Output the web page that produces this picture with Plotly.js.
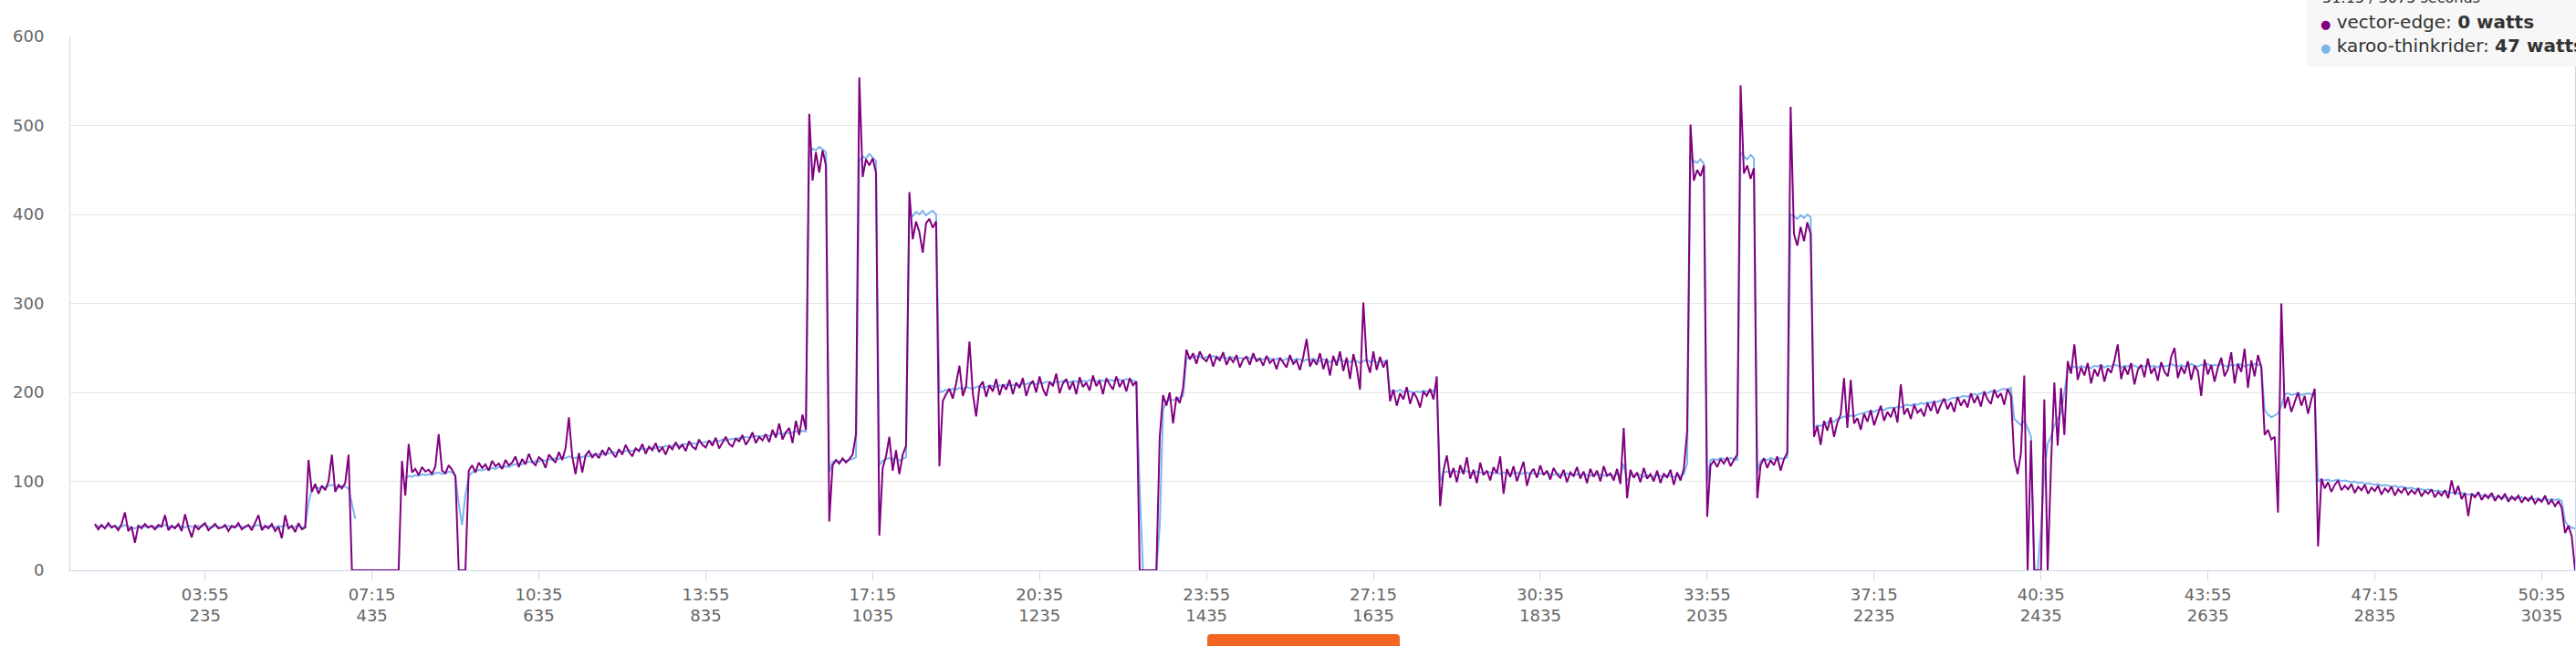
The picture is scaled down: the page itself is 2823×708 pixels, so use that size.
<!DOCTYPE html>
<html>
<head>
<meta charset="utf-8">
<script src="https://cdn.plot.ly/plotly-3.0.1.min.js"></script>
<style>
  html, body { margin: 0; padding: 0; background: #ffffff; }
  #chart { width: 2823px; height: 708px; }
</style>
</head>
<body>
<div id="chart"></div>
<script>
// ---- Data (seconds, watts) ----
const sampleStart = 103;   // first sample, seconds
const sampleStep = 4;      // seconds between samples

// vector-edge power (watts), 100 s per row
const vectorEdge = [
  52,46,51,47,53,48,50,45,52,65,44,49,31,50,47,52,48,50,46,51,49,62,45,50,47,
  52,44,63,48,37,51,46,50,53,45,49,52,47,48,51,44,50,48,53,46,49,51,45,54,62,
  45,50,47,52,44,49,36,62,47,50,43,53,46,48,124,88,97,86,95,90,100,130,88,96,92,
  98,130,0,0,0,0,0,0,0,0,0,0,0,0,0,0,0,123,84,142,110,114,107,116,111,
  113,108,117,153,112,109,118,113,106,0,0,0,112,118,110,121,115,119,112,123,117,120,114,124,118,
  121,128,116,125,119,131,122,118,127,124,115,130,126,121,133,124,137,172,128,108,132,110,129,134,127,
  131,126,135,129,138,132,127,136,130,141,133,128,137,134,142,131,139,135,143,133,138,130,140,136,144,
  137,141,134,145,139,136,147,141,138,146,140,149,137,144,150,142,139,148,145,152,141,147,155,143,150,
  146,153,144,158,149,165,147,155,160,143,168,152,175,158,513,438,470,447,472,455,55,118,124,120,126,
  121,125,130,153,554,442,462,455,463,447,39,115,128,150,112,135,108,130,140,425,372,392,380,357,390,
  395,385,392,117,190,198,204,193,210,230,196,207,257,199,173,206,212,195,208,201,215,197,209,203,214,
  198,211,205,216,196,208,213,200,218,204,196,212,207,221,199,210,215,203,212,198,217,206,211,202,219,
  207,213,198,216,209,203,218,206,214,201,216,208,212,0,0,0,0,0,0,150,197,185,200,165,195,
  188,205,248,237,244,232,246,238,235,243,229,240,236,245,231,239,234,242,228,237,240,231,244,235,238,
  230,241,233,237,226,239,234,228,242,232,236,225,240,260,229,237,231,244,226,238,219,241,230,246,224,
  239,215,243,228,203,301,235,222,246,225,240,228,236,190,203,185,199,192,206,187,200,194,183,201,196,
  204,192,218,72,112,129,104,115,99,118,108,127,103,113,98,121,107,112,101,116,109,128,86,114,105,
  117,100,111,122,95,109,114,104,118,107,112,102,115,108,104,113,99,110,106,116,103,111,98,114,105,
  112,100,117,106,109,101,114,97,160,81,113,104,110,99,115,103,108,100,112,98,109,104,113,96,110,
  101,114,156,501,438,450,443,455,60,118,123,116,125,120,127,117,124,130,545,446,455,440,452,81,118,
  126,115,124,118,128,112,125,132,521,378,365,386,370,391,378,150,162,141,168,157,172,150,166,175,216,
  160,214,165,171,158,176,167,180,163,174,185,168,178,172,183,166,209,175,182,170,186,177,181,173,188,
  179,190,176,186,193,181,189,178,195,185,192,183,199,188,196,184,201,192,187,203,194,199,186,204,196,
  125,108,132,219,0,146,0,0,0,192,0,118,211,140,205,152,235,221,254,214,228,219,233,210,226,
  218,231,212,227,222,236,254,215,229,220,233,209,225,231,217,238,221,228,213,234,223,218,240,250,216,
  229,221,235,214,230,224,196,237,220,231,212,228,239,218,226,245,210,232,223,249,205,236,218,242,228,
  152,158,147,150,65,300,182,195,178,190,200,185,196,176,192,204,27,103,92,99,88,96,101,90,95,
  91,97,87,94,90,96,86,93,89,95,85,92,88,94,84,91,87,93,85,90,86,92,83,89,86,
  91,82,88,84,90,81,101,85,95,80,87,61,86,82,88,79,85,81,87,78,84,80,86,77,83,
  79,84,76,82,78,83,75,80,77,84,74,79,72,78,70,42,50,38,0
];

// karoo-thinkrider power (watts), same timestamps, null = no reading
const karooThinkrider = [
  49,50,49,48,50,49,50,48,49,51,49,48,47,49,50,49,48,50,49,48,50,51,49,48,49,
  50,49,48,50,49,48,50,49,51,49,48,50,49,48,49,50,48,49,50,49,48,50,49,50,51,
  49,48,50,49,48,50,49,51,49,48,49,50,48,49,75,92,93,92,94,93,95,96,94,93,95,
  94,92,75,58,null,null,null,null,null,null,null,null,null,null,null,null,null,null,104,106,105,107,106,108,107,
  108,107,109,110,108,109,111,110,106,75,51,85,106,110,111,113,112,114,113,115,114,116,115,117,116,
  118,119,120,119,121,122,121,123,122,124,123,125,124,126,125,127,126,128,127,126,128,127,129,128,130,
  130,131,130,132,131,133,132,134,133,134,135,134,136,135,137,136,137,138,137,139,138,140,139,140,141,
  140,141,142,141,143,142,144,143,144,145,144,146,145,147,146,147,148,147,149,148,150,149,150,151,150,
  151,152,151,153,152,154,153,155,154,155,156,155,157,156,470,474,472,476,473,470,110,122,123,122,124,
  123,124,125,127,460,465,463,468,464,460,118,123,125,126,124,127,123,125,127,402,398,403,400,404,399,
  402,404,400,200,201,203,202,204,203,205,204,206,205,204,206,207,205,206,208,207,206,208,207,209,208,
  208,209,208,210,209,211,210,209,211,210,212,211,210,212,211,213,212,211,213,212,211,213,212,214,213,
  212,214,213,212,214,213,215,214,213,215,214,213,212,90,0,0,0,0,0,50,180,190,192,191,193,
  194,196,238,240,239,241,240,238,240,239,241,238,240,239,238,240,239,237,239,238,240,238,239,237,238,
  237,239,238,236,238,237,236,238,237,236,238,237,235,237,236,238,236,235,237,236,234,236,235,237,235,
  236,234,236,235,233,235,237,234,236,233,235,234,236,200,202,201,203,200,202,201,199,201,200,202,201,
  200,202,203,100,110,111,110,112,111,110,112,111,110,109,111,110,109,111,110,109,110,108,110,109,108,
  109,110,108,109,110,108,109,107,109,108,110,108,107,109,108,107,109,108,106,108,107,109,107,106,108,
  107,108,106,108,107,106,108,107,120,100,107,106,108,107,105,107,106,105,107,106,105,107,106,105,107,
  106,108,120,466,460,458,462,457,100,124,125,124,126,125,124,126,125,124,470,465,462,467,463,110,123,
  125,124,126,125,124,126,125,127,400,398,395,399,396,400,397,160,163,162,165,166,168,167,170,171,173,
  172,174,173,175,176,177,178,179,178,180,181,180,182,183,182,184,183,185,186,185,187,186,188,187,189,
  188,190,189,191,192,191,193,194,193,195,196,195,197,198,197,199,200,199,201,202,201,203,204,203,205,
  170,166,163,168,160,150,0,0,46,110,142,150,163,170,177,200,226,228,229,227,230,228,229,227,230,
  229,231,228,230,229,231,230,228,230,229,231,230,228,230,229,231,229,230,228,231,229,230,232,230,229,
  231,229,230,232,230,229,231,230,232,229,231,230,232,230,229,231,230,232,231,229,231,230,232,231,230,
  180,175,172,174,176,185,198,199,197,198,199,197,198,199,198,197,100,102,101,102,100,101,102,100,101,
  100,99,100,98,99,97,98,97,96,97,95,96,95,94,95,93,94,93,92,93,91,92,91,90,91,
  90,89,90,88,89,88,87,88,86,87,86,85,86,84,85,84,83,84,83,82,83,81,82,81,80,
  82,81,82,80,81,80,80,81,79,80,79,80,79,80,78,55,50,48,47
];

// x-axis ticks
const tickSeconds = [235, 435, 635, 835, 1035, 1235, 1435, 1635, 1835, 2035, 2235, 2435, 2635, 2835, 3035];
const tickClock = ['03:55','07:15','10:35','13:55','17:15','20:35','23:55','27:15','30:35','33:55','37:15','40:35','43:55','47:15','50:35'];

// tooltip content at the hovered moment
const hoverClock = '51:15';
const hoverSeconds = 3075;
const hoverVector = 0;
const hoverKaroo = 47;

const seriesNames = ['vector-edge', 'karoo-thinkrider'];
const seriesColors = ['#800080', '#7cb5ec'];

// ---- Build ----
const times = vectorEdge.map((_, i) => sampleStart + i * sampleStep);
console.log('lengths', vectorEdge.length, karooThinkrider.length);

const traces = [
  {
    x: times, y: karooThinkrider, name: seriesNames[1], type: 'scatter', mode: 'lines',
    line: { color: seriesColors[1], width: 2 }, connectgaps: false, hoverinfo: 'skip'
  },
  {
    x: times, y: vectorEdge, name: seriesNames[0], type: 'scatter', mode: 'lines',
    line: { color: seriesColors[0], width: 2 }, hoverinfo: 'skip'
  }
];

const W = 2823, H = 708;
const mL = 77, mR = 1, mT = 40, mB = 83;
const pw = W - mL - mR, ph = H - mT - mB;
const px = v => (v - mL) / pw;          // pixel -> paper x
const py = v => (H - mB - v) / ph;      // pixel -> paper y

const fontFam = '"DejaVu Sans", "Lucida Grande", Arial, sans-serif';

const layout = {
  width: W, height: H,
  margin: { l: mL, r: mR, t: mT, b: mB, pad: 0 },
  paper_bgcolor: '#ffffff', plot_bgcolor: '#ffffff',
  showlegend: false,
  hovermode: false,
  font: { family: fontFam, color: '#666666', size: 18 },
  xaxis: {
    range: [73.5, 3075],
    tickmode: 'array',
    tickvals: tickSeconds,
    ticktext: tickSeconds.map((s, i) => tickClock[i] + '<br>' + s),
    ticks: 'outside', ticklen: 10, tickwidth: 1, tickcolor: '#ccd6eb',
    showgrid: false, zeroline: false,
    showline: true, linecolor: '#ccd6eb', linewidth: 1,
    tickfont: { family: fontFam, size: 18, color: '#666666' }
  },
  yaxis: {
    range: [0, 600], dtick: 100, tick0: 0,
    showgrid: true, gridcolor: '#e6e6e6', gridwidth: 1,
    zeroline: false,
    showline: true, linecolor: '#ccd6eb', linewidth: 1, mirror: true,
    ticks: '', ticklabelstandoff: 24,
    tickfont: { family: fontFam, size: 18, color: '#666666' }
  },
  shapes: [
    { type: 'rect', xref: 'paper', yref: 'paper', layer: 'above',
      x0: px(2527), x1: px(2830), y0: py(73), y1: py(-10),
      fillcolor: 'rgba(247,247,247,0.97)', line: { width: 0 } },
    { type: 'path', xref: 'paper', yref: 'paper', layer: 'above',
      path: 'M ' + px(1323) + ' ' + py(712) + ' L ' + px(1323) + ' ' + py(699) +
            ' Q ' + px(1323) + ' ' + py(695) + ' ' + px(1327) + ' ' + py(695) +
            ' L ' + px(1530) + ' ' + py(695) +
            ' Q ' + px(1534) + ' ' + py(695) + ' ' + px(1534) + ' ' + py(699) +
            ' L ' + px(1534) + ' ' + py(712) + ' Z',
      fillcolor: '#f26522', line: { width: 0 } }
  ],
  annotations: [
    { xref: 'paper', yref: 'paper', x: px(2543), y: py(-3), xanchor: 'left', yanchor: 'middle',
      showarrow: false, align: 'left',
      text: hoverClock + ' / ' + hoverSeconds + ' seconds',
      font: { family: fontFam, size: 16, color: '#333333' } },
    { xref: 'paper', yref: 'paper', x: px(2541), y: py(24), xanchor: 'left', yanchor: 'middle',
      showarrow: false, align: 'left',
      text: '<span style="color:' + seriesColors[0] + ';font-size:13px">●</span> ' + seriesNames[0] + ': <b>' + hoverVector + ' watts</b>',
      font: { family: fontFam, size: 20, color: '#333333' } },
    { xref: 'paper', yref: 'paper', x: px(2541), y: py(50), xanchor: 'left', yanchor: 'middle',
      showarrow: false, align: 'left',
      text: '<span style="color:' + seriesColors[1] + ';font-size:13px">●</span> ' + seriesNames[1] + ': <b>' + hoverKaroo + ' watts</b>',
      font: { family: fontFam, size: 20, color: '#333333' } }
  ]
};

Plotly.newPlot('chart', traces, layout, { displayModeBar: false, responsive: false });
</script>
</body>
</html>
